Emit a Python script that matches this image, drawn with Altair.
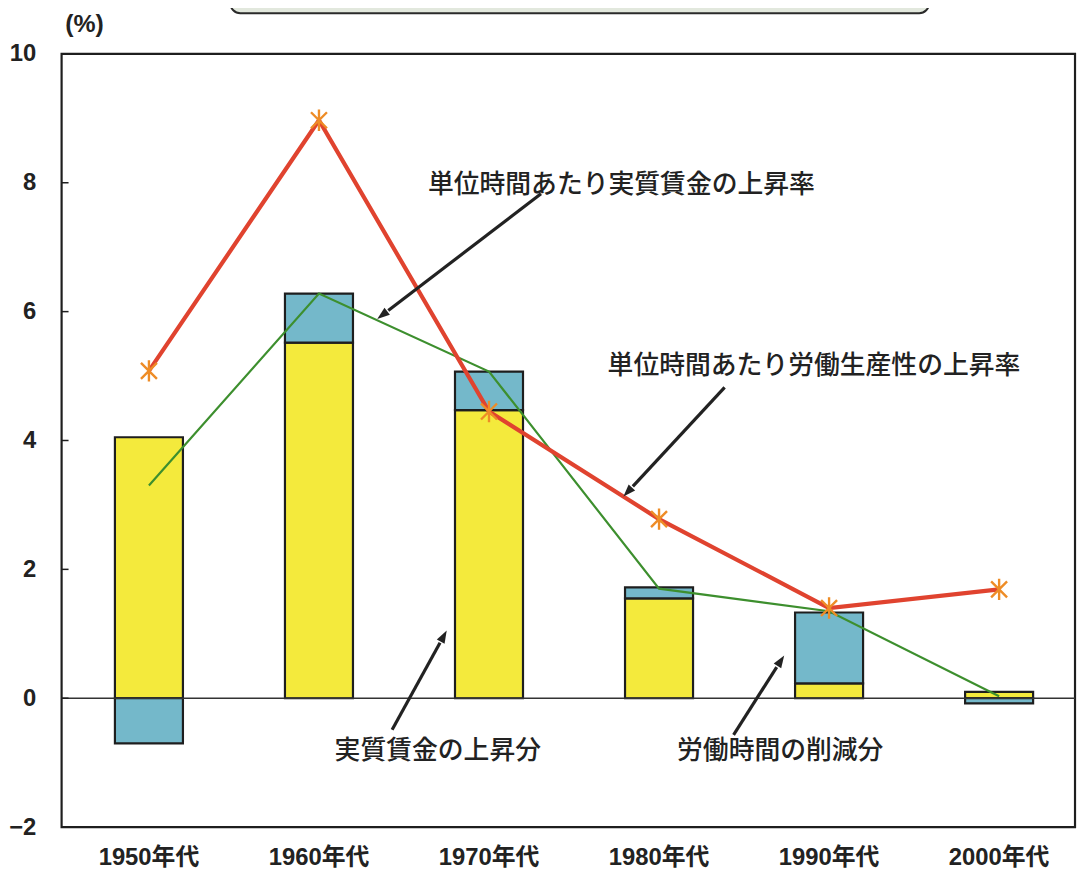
import math
import altair as alt
import pandas as pd

# ---------------- data ----------------
decades = ["1950年代", "1960年代", "1970年代", "1980年代", "1990年代", "2000年代"]
wage_part = [4.05, 5.52, 4.47, 1.55, 0.23, 0.10]        # 実質賃金の上昇分 (yellow)
hours_part = [-0.70, 0.76, 0.60, 0.17, 1.10, -0.08]     # 労働時間の削減分 (blue)
real_wage_rate = [3.30, 6.28, 5.07, 1.70, 1.35, 0.03]   # 単位時間あたり実質賃金の上昇率 (green)
productivity_rate = [5.08, 8.97, 4.45, 2.78, 1.40, 1.69]  # 単位時間あたり労働生産性の上昇率 (red)

y_ticks = [-2, 0, 2, 4, 6, 8, 10]

# ---------------- styling ----------------
W, H = 1021, 779
OX, OY = 62, 51  # plot origin on the page
FONT = "Liberation Sans, Arial, Noto Sans CJK JP, sans-serif"
JFONT = "Noto Sans CJK JP, sans-serif"
YELLOW = "#f4ea3c"
BLUE = "#74b8ca"
GREEN = "#3d8f2e"
RED = "#e0432f"
ORANGE = "#ee8c26"
FRAME = "#1e1e1e"

rows = []
for d, w, h in zip(decades, wage_part, hours_part):
    rows.append({"decade": d, "part": "実質賃金の上昇分", "y0": 0.0, "y1": w})
    if h < 0:
        rows.append({"decade": d, "part": "労働時間の削減分", "y0": 0.0, "y1": h})
    else:
        rows.append({"decade": d, "part": "労働時間の削減分", "y0": w, "y1": w + h})
bars_df = pd.DataFrame(rows)
lines_df = pd.DataFrame({"decade": decades, "green": real_wage_rate, "red": productivity_rate})

xscale = alt.Scale(paddingInner=0.6, paddingOuter=0.28, align=0.56)
xenc = alt.X("decade:N", sort=decades, title=None, scale=xscale,
             axis=alt.Axis(labelAngle=0, labelFontSize=24, labelFontWeight="bold",
                           labelFont=FONT, labelColor="#222", labelPadding=19,
                           ticks=False, domain=False))
yscale = alt.Scale(domain=[-2, 10], nice=False, zero=False)
yaxis = alt.Axis(values=y_ticks, format="d", labelFontSize=24, labelFontWeight="bold",
                 labelFont=FONT, labelColor="#222", labelPadding=26,
                 ticks=False, domain=False, grid=False)

bars = alt.Chart(bars_df).mark_bar(stroke=FRAME, strokeWidth=2.2).encode(
    x=xenc,
    y=alt.Y("y0:Q", scale=yscale, axis=yaxis, title=None),
    y2="y1:Q",
    color=alt.Color("part:N", scale=alt.Scale(domain=["実質賃金の上昇分", "労働時間の削減分"],
                                              range=[YELLOW, BLUE]), legend=None),
)

zero = alt.Chart(pd.DataFrame({"z": [0]})).mark_rule(color="#333", strokeWidth=1.5).encode(
    y=alt.Y("z:Q", scale=yscale))

# short inward tick marks on the left frame
inner_ticks = alt.Chart(pd.DataFrame({"t": y_ticks[1:-1]})).mark_rule(
    color=FRAME, strokeWidth=1.5).encode(
    y=alt.Y("t:Q", scale=yscale), x=alt.value(0), x2=alt.value(7))

green = alt.Chart(lines_df).mark_line(color=GREEN, strokeWidth=2.2).encode(
    x=alt.X("decade:N", sort=decades), y=alt.Y("green:Q", scale=yscale))

red = alt.Chart(lines_df).mark_line(color=RED, strokeWidth=4.2).encode(
    x=alt.X("decade:N", sort=decades), y=alt.Y("red:Q", scale=yscale))

STAR = "M0,-1L0,1M-0.75,-0.75L0.75,0.75M-0.75,0.75L0.75,-0.75"
stars = alt.Chart(lines_df).mark_point(shape=STAR, filled=False, stroke=ORANGE,
                                       strokeWidth=2.4, size=460, opacity=1).encode(
    x=alt.X("decade:N", sort=decades), y=alt.Y("red:Q", scale=yscale))

one = pd.DataFrame({"a": [0]})
layers = [bars, zero, inner_ticks, green, red, stars]

# ---------------- annotations (page pixel positions) ----------------
texts = [
    ("単位時間あたり実質賃金の上昇率", 626, 183),
    ("単位時間あたり労働生産性の上昇率", 820, 366),
    ("実質賃金の上昇分", 441, 753),
    ("労働時間の削減分", 786, 753),
]
for t, px, py in texts:
    layers.append(alt.Chart(one).mark_text(text=t, font=JFONT, fontSize=26, fontWeight=500,
                                           color="#222", align="center", baseline="middle").encode(
        x=alt.value(px - OX), y=alt.value(py - OY)))

arrows = [((545, 192), (380, 318)), ((730, 387), (628, 497)),
          ((395, 732), (450, 632)), ((739, 737), (790, 657))]
HEAD = "M0,0L0.6,1.7L-0.6,1.7Z"
for (tx, ty), (hx, hy) in arrows:
    dx, dy = hx - tx, hy - ty
    L = math.hypot(dx, dy)
    ux, uy = dx / L, dy / L
    ex, ey = hx - ux * 14, hy - uy * 14
    ang = math.degrees(math.atan2(dx, -dy)) % 360
    layers.append(alt.Chart(one).mark_rule(color="#222", strokeWidth=3.2).encode(
        x=alt.value(tx - OX), y=alt.value(ty - OY),
        x2=alt.value(ex - OX), y2=alt.value(ey - OY)))
    layers.append(alt.Chart(one).mark_point(shape=HEAD, filled=True, color="#222",
                                            size=220, angle=ang, opacity=1).encode(
        x=alt.value(hx - OX), y=alt.value(hy - OY)))

# "(%)" unit label
layers.append(alt.Chart(one).mark_text(text="(%)", font=FONT, fontSize=25, fontWeight="bold",
                                       color="#222", align="center", baseline="middle").encode(
    x=alt.value(85 - OX), y=alt.value(21 - OY)))

# cropped title box at the top
layers.append(alt.Chart(one).mark_rect(fill="#e2e8dd", stroke="#2a2a2a", strokeWidth=2,
                                       cornerRadius=10).encode(
    x=alt.value(232 - OX), x2=alt.value(936 - OX),
    y=alt.value(-90), y2=alt.value(10 - OY)))

chart = alt.layer(*layers).properties(
    width=W, height=H,
    background="white",
    autosize=alt.AutoSizeParams(type="none"),
    padding={"left": OX - 8, "top": OY - 8, "right": 2, "bottom": 40},
).configure_view(stroke=FRAME, strokeWidth=2.2)

chart.save("out.html", embed_options={"renderer": "svg", "actions": False})
